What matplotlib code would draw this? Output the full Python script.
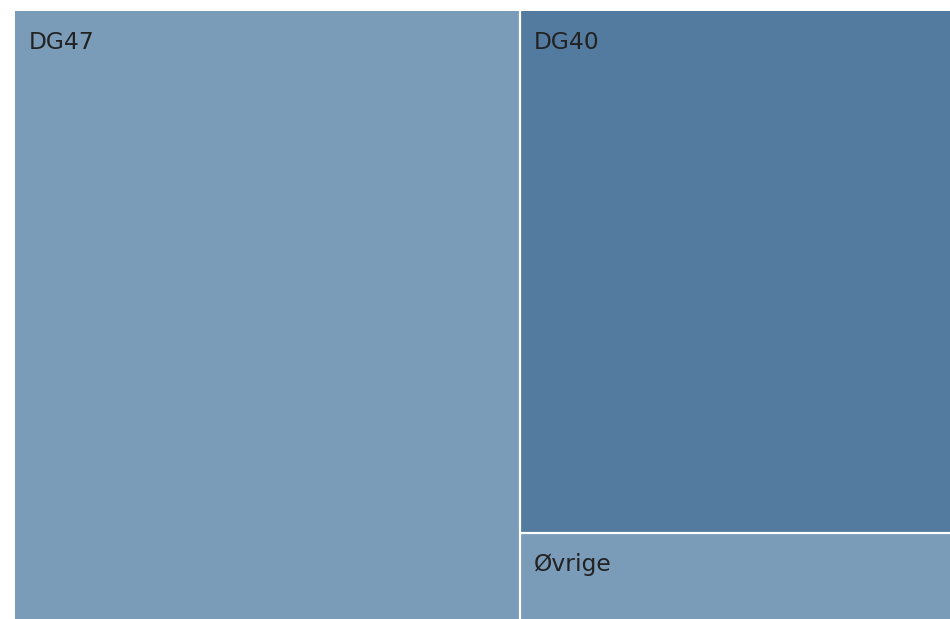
import matplotlib
matplotlib.use("Agg")
import matplotlib.pyplot as plt
from matplotlib.patches import Rectangle

labels = ["DG47", "DG40", "Øvrige"]
values = [54.0, 39.5, 6.5]
colors = ["#7a9cb8", "#537a9f", "#7a9cb8"]

W, H = 950, 619
fig = plt.figure(figsize=(W / 100, H / 100), dpi=100)
left, top = 15, 11
ax = fig.add_axes([left / W, 0, (W - left) / W, (H - top) / H])
ax.set_xlim(0, 1)
ax.set_ylim(0, 1)
ax.invert_yaxis()
ax.axis("off")

total = sum(values)
w0 = values[0] / total
rects = [(0, 0, w0, 1)]
rest = sum(values[1:])
y = 0
for v in values[1:]:
    h = v / rest
    rects.append((w0, y, 1 - w0, h))
    y += h

axw = W - left
axh = H - top
for (x, y, w, h), lab, c in zip(rects, labels, colors):
    ax.add_patch(Rectangle((x, y), w, h, facecolor=c, edgecolor="none"))
    ax.text(x + 14 / axw, y + 20 / axh, lab, ha="left", va="top",
            fontsize=16.8, color="#222222", family="DejaVu Sans")

# white separators between tiles (interior edges only)
ax.plot([w0, w0], [0, 1], color="white", lw=1.6, solid_capstyle="butt")
ax.plot([w0, 1], [rects[1][3], rects[1][3]], color="white", lw=1.6, solid_capstyle="butt")

fig.savefig("out.png", dpi=100)
